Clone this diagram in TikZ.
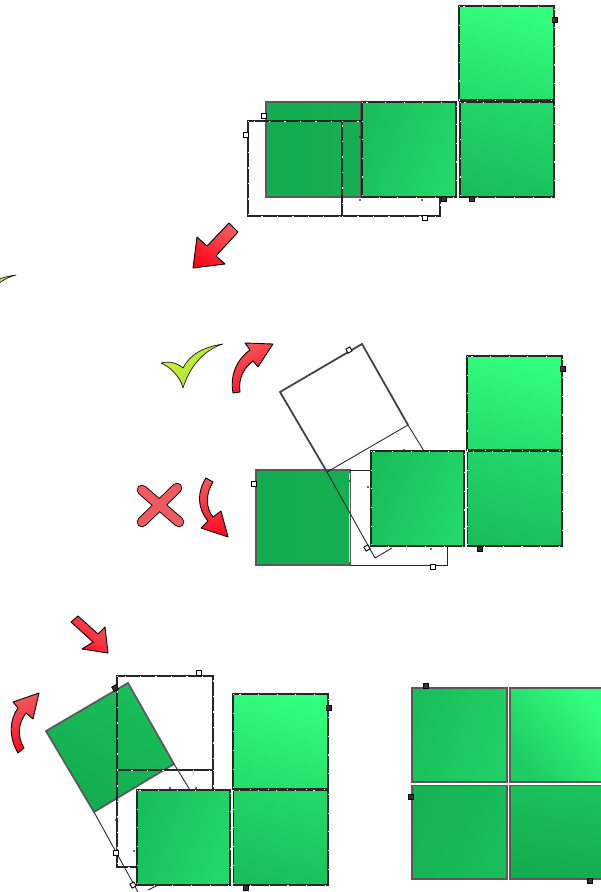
\documentclass[tikz,border=0pt]{standalone}
\definecolor{tilebright}{RGB}{50,255,125}
\definecolor{tilelight}{RGB}{34,216,105}
\definecolor{tilemid}{RGB}{25,190,90}
\definecolor{tiledark}{RGB}{19,172,80}
\definecolor{arrowlight}{RGB}{238,90,96}
\definecolor{arrowred}{RGB}{255,10,28}
\definecolor{checklight}{RGB}{205,240,60}
\definecolor{checkdark}{RGB}{170,225,50}
\begin{document}
\begin{tikzpicture}[x=0.02cm, y=-0.02cm,
    tile/.style={draw=black!85, line width=1.1pt,
      postaction={draw=white, line width=0.3pt, dash pattern=on 0.6pt off 10pt}},
    tileloose/.style={draw=black!65, line width=1pt},
    tiletop/.style={tile, top color=tilebright, bottom color=tilelight!85!tilebright, shading angle=-15},
    tilefront/.style={tile, top color=tilelight, bottom color=tilemid, shading angle=-15},
    tileside/.style={tile, left color=tilemid, right color=tilelight, shading angle=70},
    tilemoved/.style={tileloose, left color=tiledark, right color=tiledark!92!tilelight},
    ghost/.style={draw=black!85, line width=0.6pt,
      postaction={draw=white, line width=0.35pt, dash pattern=on 0.8pt off 8pt}},
    ghostthin/.style={draw=black!85, line width=0.5pt},
    ghostedge/.style={draw=black!75, line width=1pt},
    pointer/.style={draw=black, line width=0.5pt, line join=round,
      top color=arrowlight, bottom color=arrowred},
    tickmark/.style={draw=black!90, line width=0.4pt, line join=round,
      top color=checklight, bottom color=checkdark, shading angle=45},
    crossarm/.style={line cap=round, line width=6pt},
    handle/.style={draw=black, fill=white, line width=0.5pt, inner sep=0pt, minimum size=2.6pt},
    handledark/.style={draw=black, fill=black!80, inner sep=0pt, minimum size=2.8pt},
    speck/.style={fill=black!80, circle, inner sep=0pt, minimum size=1.3pt}]

  \path[use as bounding box] (0,0) rectangle (601,892);
  \clip (0,0) rectangle (601,892);

  %% ===== PANEL 1: SHAPE WITH LOOSE TILE =====
  \begin{scope}
    \draw[tilemoved] (266,102) rectangle (361,197);

    % Outline of the target place
    \draw[ghost] (248,121) rectangle (342,216);
    \draw[ghost] (342,121) -- (361,121);
    \draw[ghost] (342,216) -- (440,216) -- (440,197);

    \draw[tileside] (362,102) rectangle (456,197);
    \draw[tilefront] (460,102) rectangle (554,197);
    \draw[tiletop] (459,6) rectangle (554,100);

    \foreach \px/\py in {264/116, 246/135, 425/218}
      \node[handle] (hone\px) at (\px,\py) {};
    \foreach \px/\py in {555/20, 444/199, 472/199}
      \node[handledark] (done\px) at (\px,\py) {};
    \foreach \px/\py in {360/137, 360/200, 422/200}
      \node[speck] (sone\px) at (\px,\py) {};

    % Arrow to the next step
    \draw[pointer, shading angle=-40] (193,268) -- (197,237) -- (207,246) -- (229,223)
      -- (238,232) -- (216,256) -- (225,264) -- cycle;
  \end{scope}

  % Check mark cut by the left edge
  \draw[tickmark] (-60,294) .. controls (-48,292) and (-36,294) .. (-24,299)
    .. controls (-16,284) and (-4,278) .. (16,275)
    .. controls (-4,280) and (-18,298) .. (-24,319)
    .. controls (-28,308) and (-40,300) .. cycle;

  %% ===== PANEL 2: TWO WAYS TO TURN =====
  \begin{scope}
    \draw[tilemoved] (256,470) rectangle (350,565);
    \draw[white!75!tilelight, line width=1pt] (349.5,473) -- (349.5,562);

    % Outline of the turned tile
    \draw[ghostedge] (408,425) -- (362,344) -- (280,392) -- (327,472);
    \draw[ghostthin] (408,425) -- (327,472);
    \draw[ghostthin] (408,425) -- (424,451);
    \draw[ghostthin] (327,472) -- (375,558) -- (392,548);

    % Outline of the old place
    \draw[ghostthin] (350,470) -- (371,470);
    \draw[ghostthin] (350,565) -- (447,565) -- (447,546);

    \draw[tileside] (371,451) rectangle (464,546);
    \draw[tilefront] (467.5,451) rectangle (562,546);
    \draw[tiletop] (467,356) rectangle (562,450);

    \node[handle, rotate=30] (htwoa) at (349,350) {};
    \node[handle, rotate=30] (htwob) at (367,548) {};
    \node[handle] (htwoc) at (254,484) {};
    \node[handle] (htwod) at (433,567) {};
    \node[handledark] (dtwoa) at (563,369) {};
    \node[handledark] (dtwob) at (480,549) {};
    \foreach \px/\py in {404/450, 350/481, 368/487, 431/549}
      \node[speck] (stwo\px) at (\px,\py) {};

    % Right way
    \draw[tickmark] (161,363) .. controls (168,361) and (176,362) .. (183,368)
      .. controls (190,354) and (204,347) .. (223,344)
      .. controls (204,350) and (190,366) .. (183,388)
      .. controls (180,376) and (170,367) .. cycle;
    \draw[pointer, shading angle=30] (233,393) .. controls (230,376) and (236,360) .. (250,350)
      -- (245,343) -- (273,344) -- (258,367) -- (253,361)
      .. controls (244,368) and (238,378) .. (240,392) -- cycle;

    % Wrong way
    \draw[black, crossarm] (142,490) -- (179,522);
    \draw[black, crossarm] (177,488) -- (142,522);
    \draw[arrowlight, crossarm, line width=5pt] (142,490) -- (179,522);
    \draw[arrowlight, crossarm, line width=5pt] (177,488) -- (142,522);
    \draw[pointer] (206,478) -- (213,482) .. controls (205,495) and (206,508) .. (213,517)
      -- (221,511) -- (228,537) -- (201,528) -- (208,521)
      .. controls (197,508) and (197,492) .. cycle;
  \end{scope}

  %% ===== PANEL 3: TILE TURNED =====
  \begin{scope}
    \draw[tileloose, top color=tilemid, bottom color=tiledark, shading angle=-30]
      (128,683) -- (46,731) -- (94,812) -- (174,764) -- cycle;

    % Outline of the old place
    \draw[ghost] (117,676) rectangle (213,770);
    \draw[ghost] (117,770) -- (117,867) -- (137,867);
    \draw[ghost] (213,770) -- (213,790);
    \draw[ghostthin] (174,764) -- (190,790);
    \draw[ghostthin] (94,812) -- (138,892);
    \draw[ghostthin] (148,890) -- (158,885);

    \draw[tileside] (137,790) rectangle (230,885);
    \draw[tilefront] (233.5,790) rectangle (328,885);
    \draw[tiletop] (233,694) rectangle (328,789);

    \node[handle] (hthreea) at (199,673) {};
    \node[handle] (hthreeb) at (116,853) {};
    \node[handle, rotate=30] (hthreec) at (133,885) {};
    \node[handledark, rotate=30] (dthreea) at (115,688) {};
    \node[handledark] (dthreeb) at (329,708) {};
    \node[handledark] (dthreec) at (246,888) {};
    \foreach \px/\py in {170/788, 196/788, 116/820, 134/851}
      \node[speck] (sthree\px) at (\px,\py) {};

    \draw[pointer, shading angle=-40] (108,653) -- (82,649) -- (93,642) -- (71,622)
      -- (78,616) -- (98,634) -- (105,627) -- cycle;
    \draw[pointer, shading angle=20]
      (18,753) .. controls (9,738) and (9,720) .. (18,708) -- (13,702) -- (39,693) -- (33,719)
      -- (26,713) .. controls (18,724) and (17,736) .. (24,748) -- cycle;
  \end{scope}

  %% ===== PANEL 4: FINISHED SQUARE =====
  \begin{scope}
    \draw[tileloose, left color=tilemid, right color=tilelight!70!tilemid, shading angle=75] (412,688) rectangle (507,782);
    \draw[tileloose, bottom color=tilemid!50!tilelight, top color=tilebright, shading angle=-50] (510,688) rectangle (605,782);
    \draw[tileloose, left color=tiledark!60!tilemid, right color=tilemid, shading angle=70] (412,785.5) rectangle (507,879);
    \draw[tileloose, top color=tilemid!85!tilelight, bottom color=tiledark, shading angle=-10] (510,785.5) rectangle (605,879);

    \node[handledark] (dfoura) at (426,686) {};
    \node[handledark] (dfourb) at (411,797) {};
    \node[handledark] (dfourc) at (590,881) {};
  \end{scope}

\end{tikzpicture}
\end{document}
